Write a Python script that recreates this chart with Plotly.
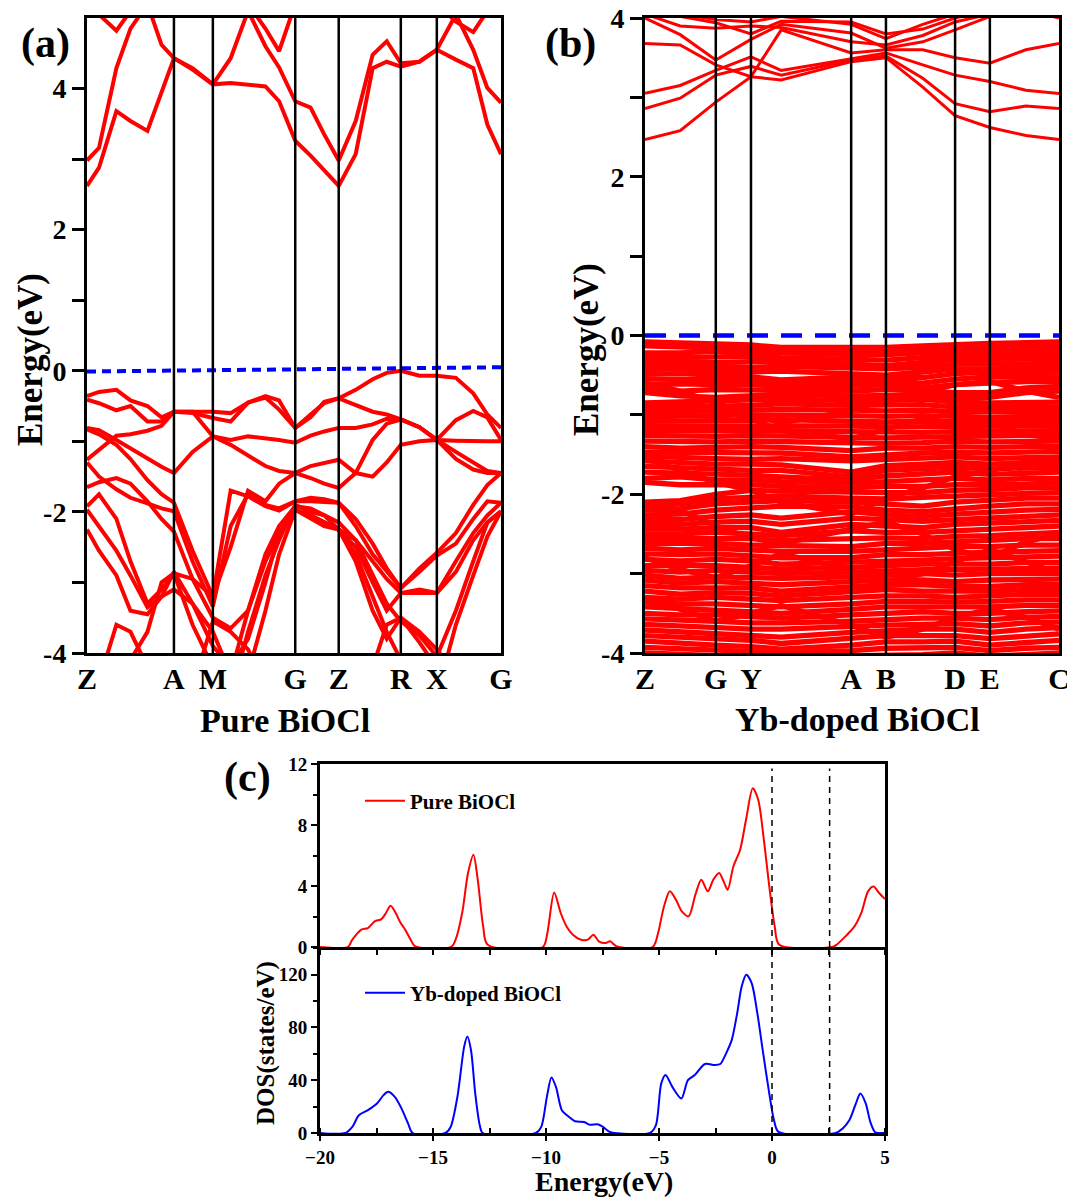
import plotly.graph_objects as go

W, H = 1075, 1202          # target picture size
OFF = 8                     # page body margin that offsets the figure
FW, FH = W - OFF, H - OFF   # figure size so that it fits the window
SERIF = "Liberation Serif"
RED = "#ff0000"
BLUE = "#0000ff"

# ---------------- Panel (a): pure BiOCl band structure ----------------
k_a = [0.0, 0.029, 0.071, 0.105, 0.146, 0.180, 0.210, 0.255, 0.304, 0.347, 0.389, 0.431, 0.464,
       0.503, 0.540, 0.573, 0.608, 0.649, 0.690, 0.724, 0.758, 0.803, 0.845, 0.891, 0.933, 0.967, 1.0]
kpath_a = [0.0, 0.210, 0.304, 0.503, 0.608, 0.758, 0.845, 1.0]
klabels_a = ["Z", "A", "M", "G", "Z", "R", "X", "G"]

cond_a1 = [2.62, 2.88, 3.68, 3.54, 3.40, 3.96, 4.43, 4.29, 4.06, 4.08, 4.06, 4.03, 3.82, 3.26, 3.05, 2.84, 2.62, 3.07, 4.29, 4.38, 4.31, 4.38, 4.55, 4.41, 4.29, 3.49, 3.07]
cond_a2 = [2.98, 3.16, 4.29, 4.85, 5.20, 4.62, 4.43, 4.27, 4.06, 4.43, 5.10, 4.60, 4.30, 3.82, 3.73, 3.35, 2.98, 3.54, 4.48, 4.67, 4.36, 4.38, 4.55, 5.05, 4.55, 4.01, 3.80]
cond_a3 = [5.30, 5.05, 4.82, 5.10, 5.40, 5.50, 5.50, 5.50, 5.50, 5.40, 5.20, 4.85, 4.53, 5.20, 5.50, 5.50, 5.50, 5.40, 5.20, 5.10, 5.30, 5.30, 5.20, 4.95, 4.80, 5.10, 5.30]

val_a1 = [-0.36, -0.30, -0.27, -0.42, -0.50, -0.66, -0.58, -0.58, -0.58, -0.60, -0.45, -0.36, -0.42, -0.81, -0.66, -0.44, -0.39, -0.27, -0.12, -0.03, 0.00, -0.07, -0.07, -0.10, -0.32, -0.62, -0.81]
val_a2 = [-0.41, -0.46, -0.56, -0.50, -0.72, -0.72, -0.58, -0.60, -0.67, -0.72, -0.45, -0.38, -0.55, -0.81, -0.62, -0.46, -0.39, -0.48, -0.58, -0.62, -0.69, -0.80, -0.98, -0.70, -0.57, -0.66, -0.98]
val_a3 = [-0.81, -0.84, -0.98, -1.10, -1.24, -1.36, -1.45, -1.15, -0.93, -0.98, -0.93, -0.95, -0.98, -1.02, -0.92, -0.86, -0.81, -0.81, -0.76, -0.68, -0.69, -0.80, -0.98, -0.99, -1.00, -1.00, -1.00]
val_a4 = [-0.83, -0.90, -1.05, -1.25, -1.55, -1.75, -1.87, -2.55, -3.20, -2.50, -1.70, -1.85, -1.60, -1.45, -1.35, -1.30, -1.26, -1.45, -1.50, -1.30, -1.05, -1.00, -0.98, -1.15, -1.30, -1.42, -1.45]
val_a5 = [-1.26, -1.12, -0.92, -0.90, -0.85, -0.78, -0.58, -0.58, -0.93, -1.05, -1.20, -1.35, -1.42, -1.45, -1.52, -1.60, -1.66, -1.45, -0.98, -0.75, -0.69, -0.80, -0.98, -1.25, -1.40, -1.45, -1.45]
val_a6 = [-1.30, -1.50, -1.68, -1.80, -1.88, -1.95, -1.99, -2.70, -3.34, -2.20, -1.75, -1.90, -1.95, -1.85, -1.85, -1.86, -1.87, -2.10, -2.45, -2.80, -3.08, -2.80, -2.58, -2.30, -1.90, -1.62, -1.45]
val_a7 = [-1.65, -1.58, -1.52, -1.60, -1.85, -2.10, -2.28, -2.95, -3.50, -3.65, -3.40, -2.70, -2.30, -1.97, -2.05, -2.15, -2.25, -2.40, -2.70, -2.95, -3.15, -3.15, -3.15, -2.70, -2.30, -2.05, -1.87]
val_a8 = [-1.92, -1.75, -2.10, -2.70, -3.30, -3.10, -2.87, -2.95, -3.20, -1.70, -1.78, -1.92, -1.98, -1.85, -1.80, -1.82, -1.87, -2.20, -2.60, -2.85, -3.08, -2.85, -2.62, -2.45, -2.10, -1.85, -1.87]
val_a9 = [-1.97, -2.20, -2.55, -2.90, -3.35, -3.20, -2.85, -3.30, -3.90, -4.20, -3.80, -3.00, -2.30, -1.97, -2.10, -2.20, -2.25, -2.50, -3.00, -3.40, -3.15, -3.10, -3.15, -2.85, -2.40, -2.15, -1.99]
val_a10 = [-2.25, -2.55, -2.90, -3.40, -3.45, -3.20, -3.10, -3.30, -3.70, -4.30, -3.40, -2.60, -2.20, -1.92, -1.95, -2.05, -2.15, -2.40, -2.90, -3.30, -3.55, -3.75, -4.05, -3.40, -2.70, -2.15, -1.99]
val_a11 = [-4.80, -4.40, -3.60, -3.70, -4.20, -4.60, -4.80, -4.50, -3.55, -3.70, -3.95, -4.40, -4.80, -5.00, -5.00, -5.00, -5.00, -4.60, -4.20, -3.60, -3.50, -3.85, -4.20, -4.60, -4.80, -5.00, -5.00]
val_a12 = [-5.00, -4.80, -4.40, -4.60, -5.00, -5.00, -5.00, -5.00, -5.00, -4.60, -3.70, -2.90, -2.40, -1.90, -2.00, -2.05, -2.25, -2.60, -3.20, -3.70, -4.10, -4.30, -4.60, -3.60, -2.90, -2.35, -1.99]
val_a13 = [-5.00, -5.00, -4.60, -4.10, -3.70, -3.00, -2.87, -3.60, -4.20, -4.80, -4.30, -3.40, -2.60, -1.97, -2.05, -2.15, -2.25, -2.70, -3.40, -3.80, -3.50, -3.70, -3.95, -4.30, -4.80, -5.00, -5.00]

bands_a = [cond_a1, cond_a2, cond_a3, val_a1, val_a2, val_a3, val_a4, val_a5, val_a6, val_a7,
           val_a8, val_a9, val_a10, val_a11, val_a12, val_a13]
fermi_a = [-0.01, 0.05]

# ---------------- Panel (b): Yb-doped BiOCl band structure ----------------
k_b = [0.0, 0.085, 0.171, 0.256, 0.329, 0.498, 0.582, 0.671, 0.749, 0.833, 0.920, 1.0]
kpath_b = [0.0, 0.171, 0.256, 0.498, 0.582, 0.749, 0.833, 1.0]
klabels_b = ["Z", "G", "Y", "A", "B", "D", "E", "C"]

cond_b = [
    [2.47, 2.58, 2.94, 3.26, 3.22, 3.45, 3.50, 3.13, 2.77, 2.62, 2.52, 2.47],
    [2.86, 2.99, 3.28, 3.39, 3.28, 3.47, 3.52, 3.24, 2.92, 2.82, 2.89, 2.86],
    [3.05, 3.15, 3.34, 3.51, 3.34, 3.49, 3.56, 3.41, 3.28, 3.20, 3.09, 3.05],
    [3.68, 3.66, 3.41, 3.26, 3.85, 3.56, 3.60, 3.60, 3.50, 3.43, 3.60, 3.68],
    [4.00, 3.79, 3.47, 3.73, 3.92, 3.81, 3.62, 3.70, 3.85, 4.02, 4.05, 4.05],
    [4.05, 3.90, 3.87, 3.90, 3.88, 3.70, 3.66, 3.78, 3.95, 4.05, 4.10, 4.10],
    [4.10, 4.02, 3.94, 3.80, 3.96, 3.95, 3.80, 3.86, 4.00, 4.10, 4.10, 4.00],
    [4.10, 4.05, 3.98, 3.95, 4.02, 3.92, 3.74, 3.92, 4.05, 4.12, 4.12, 4.08],
]

val_b = [
    [-0.08, -0.09, -0.10, -0.12, -0.15, -0.16, -0.15, -0.13, -0.11, -0.10, -0.09, -0.08],
    [-0.13, -0.14, -0.15, -0.17, -0.19, -0.20, -0.19, -0.17, -0.15, -0.14, -0.13, -0.12],
    [-0.22, -0.22, -0.20, -0.21, -0.23, -0.24, -0.24, -0.22, -0.19, -0.18, -0.18, -0.17],
    [-0.27, -0.28, -0.27, -0.26, -0.28, -0.30, -0.31, -0.28, -0.25, -0.24, -0.23, -0.23],
    [-0.32, -0.33, -0.34, -0.33, -0.33, -0.36, -0.38, -0.34, -0.30, -0.30, -0.29, -0.29],
    [-0.38, -0.37, -0.39, -0.40, -0.39, -0.40, -0.42, -0.40, -0.36, -0.36, -0.35, -0.35],
    [-0.43, -0.42, -0.45, -0.46, -0.45, -0.48, -0.50, -0.46, -0.42, -0.42, -0.41, -0.41],
    [-0.49, -0.48, -0.50, -0.52, -0.56, -0.52, -0.53, -0.53, -0.48, -0.46, -0.47, -0.46],
    [-0.55, -0.55, -0.56, -0.56, -0.60, -0.58, -0.57, -0.60, -0.55, -0.52, -0.53, -0.52],
    [-0.62, -0.61, -0.62, -0.62, -0.64, -0.64, -0.62, -0.66, -0.62, -0.60, -0.58, -0.58],
    [-0.68, -0.70, -0.68, -0.68, -0.69, -0.70, -0.68, -0.70, -0.72, -0.72, -0.66, -0.64],
    [-0.72, -0.76, -0.78, -0.75, -0.74, -0.76, -0.75, -0.75, -0.78, -0.78, -0.72, -0.70],
    [-0.85, -0.84, -0.83, -0.81, -0.80, -0.82, -0.82, -0.80, -0.84, -0.85, -0.84, -0.84],
    [-0.90, -0.90, -0.89, -0.88, -0.86, -0.88, -0.88, -0.87, -0.90, -0.90, -0.90, -0.90],
    [-0.96, -0.96, -0.95, -0.94, -0.93, -0.94, -0.95, -0.94, -0.96, -0.96, -0.96, -0.96],
    [-1.02, -1.02, -1.01, -1.00, -1.00, -1.01, -1.02, -1.01, -1.02, -1.03, -1.02, -1.02],
    [-1.08, -1.08, -1.07, -1.07, -1.06, -1.08, -1.09, -1.08, -1.09, -1.09, -1.08, -1.08],
    [-1.14, -1.14, -1.13, -1.13, -1.13, -1.14, -1.15, -1.15, -1.15, -1.15, -1.14, -1.14],
    [-1.20, -1.20, -1.20, -1.19, -1.20, -1.21, -1.22, -1.22, -1.21, -1.21, -1.20, -1.20],
    [-1.26, -1.27, -1.27, -1.26, -1.27, -1.28, -1.29, -1.28, -1.27, -1.27, -1.26, -1.26],
    [-1.33, -1.34, -1.34, -1.33, -1.34, -1.35, -1.36, -1.35, -1.33, -1.34, -1.33, -1.33],
    [-1.40, -1.42, -1.41, -1.40, -1.41, -1.45, -1.42, -1.42, -1.40, -1.41, -1.40, -1.40],
    [-1.47, -1.47, -1.48, -1.48, -1.48, -1.53, -1.50, -1.48, -1.47, -1.48, -1.47, -1.46],
    [-1.52, -1.54, -1.55, -1.56, -1.55, -1.58, -1.56, -1.55, -1.53, -1.55, -1.54, -1.53],
    [-1.58, -1.60, -1.62, -1.62, -1.63, -1.72, -1.64, -1.62, -1.60, -1.62, -1.60, -1.60],
    [-1.65, -1.67, -1.68, -1.70, -1.70, -1.78, -1.70, -1.68, -1.66, -1.68, -1.67, -1.66],
    [-1.72, -1.73, -1.75, -1.76, -1.78, -1.82, -1.77, -1.74, -1.72, -1.75, -1.73, -1.72],
    [-1.80, -1.78, -1.82, -1.82, -1.84, -1.86, -1.84, -1.82, -1.80, -1.82, -1.80, -1.80],
    [-1.85, -1.88, -1.88, -1.88, -1.90, -1.92, -1.90, -1.90, -1.88, -1.88, -1.87, -1.86],
    [-2.10, -2.08, -2.00, -1.95, -1.96, -1.98, -1.98, -1.98, -1.95, -1.94, -1.92, -1.92],
    [-2.15, -2.12, -2.06, -2.03, -2.02, -2.05, -2.06, -2.04, -2.02, -2.00, -1.99, -1.98],
    [-2.20, -2.18, -2.12, -2.10, -2.08, -2.10, -2.13, -2.15, -2.10, -2.08, -2.05, -2.05],
    [-2.26, -2.25, -2.20, -2.18, -2.15, -2.16, -2.20, -2.22, -2.18, -2.15, -2.12, -2.12],
    [-2.32, -2.32, -2.28, -2.26, -2.30, -2.22, -2.26, -2.28, -2.25, -2.22, -2.20, -2.19],
    [-2.38, -2.38, -2.35, -2.34, -2.38, -2.30, -2.32, -2.34, -2.32, -2.30, -2.28, -2.26],
    [-2.44, -2.44, -2.42, -2.42, -2.48, -2.38, -2.40, -2.42, -2.38, -2.36, -2.35, -2.33],
    [-2.50, -2.50, -2.48, -2.50, -2.52, -2.46, -2.48, -2.48, -2.46, -2.44, -2.42, -2.40],
    [-2.56, -2.56, -2.55, -2.56, -2.58, -2.55, -2.55, -2.56, -2.53, -2.52, -2.50, -2.48],
    [-2.62, -2.62, -2.62, -2.64, -2.65, -2.66, -2.62, -2.62, -2.60, -2.58, -2.56, -2.56],
    [-2.68, -2.70, -2.68, -2.70, -2.72, -2.72, -2.70, -2.68, -2.66, -2.66, -2.64, -2.64],
    [-2.75, -2.76, -2.75, -2.78, -2.80, -2.80, -2.76, -2.76, -2.74, -2.73, -2.72, -2.71],
    [-2.82, -2.84, -2.82, -2.84, -2.88, -2.86, -2.84, -2.83, -2.81, -2.80, -2.80, -2.78],
    [-2.90, -2.90, -2.90, -2.92, -2.94, -2.92, -2.90, -2.88, -2.88, -2.88, -2.86, -2.86],
    [-2.96, -2.98, -2.96, -2.98, -3.00, -2.98, -2.96, -2.95, -2.95, -2.94, -2.93, -2.93],
    [-3.02, -3.06, -3.04, -3.05, -3.06, -3.04, -3.02, -3.00, -3.02, -3.00, -3.00, -3.00],
    [-3.08, -3.12, -3.10, -3.12, -3.14, -3.10, -3.08, -3.08, -3.10, -3.08, -3.07, -3.07],
    [-3.15, -3.18, -3.18, -3.18, -3.22, -3.16, -3.14, -3.14, -3.16, -3.16, -3.14, -3.14],
    [-3.22, -3.26, -3.24, -3.25, -3.28, -3.22, -3.20, -3.22, -3.22, -3.22, -3.20, -3.20],
    [-3.30, -3.32, -3.30, -3.32, -3.34, -3.30, -3.28, -3.28, -3.30, -3.28, -3.26, -3.26],
    [-3.36, -3.38, -3.38, -3.40, -3.42, -3.38, -3.35, -3.35, -3.36, -3.35, -3.33, -3.33],
    [-3.42, -3.44, -3.45, -3.48, -3.50, -3.45, -3.42, -3.42, -3.42, -3.42, -3.40, -3.40],
    [-3.50, -3.52, -3.52, -3.55, -3.56, -3.52, -3.50, -3.48, -3.50, -3.50, -3.48, -3.47],
    [-3.57, -3.58, -3.60, -3.62, -3.62, -3.60, -3.58, -3.56, -3.56, -3.58, -3.55, -3.54],
    [-3.64, -3.66, -3.68, -3.70, -3.70, -3.66, -3.65, -3.64, -3.63, -3.66, -3.62, -3.61],
    [-3.71, -3.73, -3.75, -3.78, -3.80, -3.74, -3.72, -3.70, -3.70, -3.74, -3.70, -3.68],
    [-3.78, -3.80, -3.82, -3.84, -3.88, -3.82, -3.78, -3.78, -3.78, -3.82, -3.78, -3.76],
    [-3.85, -3.88, -3.90, -3.92, -3.95, -3.90, -3.86, -3.86, -3.85, -3.90, -3.86, -3.84],
    [-3.93, -3.95, -3.97, -3.98, -3.99, -3.97, -3.94, -3.94, -3.93, -3.97, -3.94, -3.93],
    [-4.00, -4.02, -4.04, -4.05, -4.05, -4.04, -4.02, -4.02, -4.00, -4.04, -4.02, -4.00],
    [-0.60, -0.70, -0.85, -1.00, -1.10, -0.95, -0.80, -0.72, -0.62, -0.58, -0.70, -0.78],
    [-1.10, -1.00, -0.92, -1.05, -1.20, -1.30, -1.18, -1.05, -0.98, -1.10, -1.25, -1.30],
    [-1.55, -1.70, -1.85, -1.95, -2.10, -2.25, -2.05, -1.92, -1.78, -1.70, -1.62, -1.55],
    [-2.30, -2.20, -2.40, -2.55, -2.62, -2.45, -2.35, -2.50, -2.70, -2.80, -2.60, -2.50],
    [-2.80, -2.95, -3.05, -2.90, -2.75, -2.95, -3.10, -3.00, -2.85, -2.70, -2.85, -3.00],
    [-3.30, -3.45, -3.60, -3.50, -3.40, -3.65, -3.80, -3.70, -3.55, -3.45, -3.55, -3.70],
]
fermi_b = [0.0, 0.0]

# ---------------- Panel (c): density of states ----------------
dos_e_pure = [-20.0, -18.77, -18.57, -18.17, -17.88, -17.58, -17.28, -17.08, -16.88, -16.65, -16.45, -16.25,
              -15.99, -15.79, -14.2, -14.0, -13.71, -13.45, -13.21, -13.02, -12.78, -12.58, -10.14, -9.94,
              -9.64, -9.35, -9.09, -8.81, -8.45, -8.15, -7.9, -7.66, -7.36, -7.16, -6.87, -5.28, -5.04,
              -4.78, -4.52, -4.25, -3.99, -3.69, -3.39, -3.13, -2.84, -2.6, -2.34, -2.14, -1.96, -1.71,
              -1.41, -1.15, -0.85, -0.61, -0.36, -0.12, 0.12, 0.32, 2.66, 2.86, 3.25, 3.65, 3.95, 4.25,
              4.49, 4.74, 5.0]
dos_pure = [0.0, 0.0, 0.48, 1.14, 1.24, 1.68, 1.83, 2.23, 2.71, 2.23, 1.62, 1.18,
            0.48, 0.04, 0.0, 0.48, 2.23, 4.85, 6.05, 4.41, 1.35, 0.15, 0.0, 0.92,
            3.58, 2.23, 1.35, 0.81, 0.48, 0.48, 0.81, 0.37, 0.26, 0.37, 0.04, 0.0, 0.92,
            2.66, 3.65, 3.10, 2.34, 2.01, 3.43, 4.41, 3.65, 4.41, 4.85, 4.30, 3.76, 5.28,
            6.38, 8.34, 10.41, 9.65, 7.03, 3.97, 1.35, 0.15, 0.0, 0.15, 0.70, 1.35, 2.23, 3.65,
            3.97, 3.54, 3.14]

dos_e_yb = [-20.0, -18.87, -18.57, -18.28, -17.88, -17.48, -17.19, -16.99, -16.69, -16.39, -16.1, -15.9,
            -14.45, -14.22, -13.92, -13.62, -13.48, -13.32, -13.13, -12.93, -12.8, -10.45, -10.21, -9.96,
            -9.76, -9.56, -9.3, -9.07, -8.71, -8.31, -8.07, -7.72, -7.48, -7.18, -6.98, -5.4, -5.14,
            -4.9, -4.71, -4.41, -4.01, -3.72, -3.42, -2.97, -2.53, -2.29, -2.03, -1.78, -1.54, -1.34,
            -1.14, -0.9, -0.65, -0.39, -0.12, 0.09, 0.29, 2.82, 3.12, 3.42, 3.71, 3.91, 4.15, 4.35,
            4.55, 4.71, 5.0]
dos_yb = [0.0, 0.0, 4.6, 13.4, 17.3, 22.3, 28.7, 31.2, 27.4, 18.5, 7.1, 0.0,
          0.0, 4.6, 27.4, 65.5, 73.1, 62.9, 29.9, 5.8, 0.0, 0.0, 4.6, 27.4,
          42.1, 35.0, 17.3, 13.4, 8.9, 8.4, 6.3, 6.6, 4.6, 0.8, 0.0, 0.0, 5.8,
          37.6, 43.9, 35.0, 26.1, 40.1, 43.9, 52.3, 51.5, 52.3, 60.4, 70.6, 90.9, 111.2,
          120.0, 113.7, 90.9, 60.4, 29.9, 9.6, 0.8, 0.0, 3.3, 9.6, 22.3, 29.9, 22.3, 8.4,
          0.8, 0.0, 0.0]
gap_marks = [0.0, 2.55]


# ---------------- helpers: target-picture pixels -> paper fractions ----------------
def px(x):
    return (x - OFF) / FW


def py(y):
    return 1 - (y - OFF) / FH


fig = go.Figure()

# panel (a) traces
for band in bands_a:
    fig.add_trace(go.Scatter(x=k_a, y=band, mode="lines", line=dict(color=RED, width=4),
                             xaxis="x", yaxis="y", showlegend=False, hoverinfo="skip"))
fig.add_trace(go.Scatter(x=[kpath_a[0], kpath_a[-1]], y=fermi_a, mode="lines",
                         line=dict(color=BLUE, width=4, dash="9px,6px"),
                         xaxis="x", yaxis="y", showlegend=False, hoverinfo="skip"))

# panel (b) traces
for band in val_b:
    fig.add_trace(go.Scatter(x=k_b, y=band, mode="lines", line=dict(color=RED, width=5.3),
                             xaxis="x2", yaxis="y2", showlegend=False, hoverinfo="skip"))
for band in cond_b:
    fig.add_trace(go.Scatter(x=k_b, y=band, mode="lines", line=dict(color=RED, width=3),
                             xaxis="x2", yaxis="y2", showlegend=False, hoverinfo="skip"))
fig.add_trace(go.Scatter(x=[kpath_b[0], kpath_b[-1]], y=fermi_b, mode="lines",
                         line=dict(color=BLUE, width=4.5, dash="21px,13px"),
                         xaxis="x2", yaxis="y2", showlegend=False, hoverinfo="skip"))

# panel (c) traces
fig.add_trace(go.Scatter(x=dos_e_pure, y=dos_pure, mode="lines", name="Pure BiOCl",
                         line=dict(color=RED, width=2, shape="spline", smoothing=0.8),
                         xaxis="x3", yaxis="y3", legend="legend", hoverinfo="skip"))
fig.add_trace(go.Scatter(x=dos_e_yb, y=dos_yb, mode="lines", name="Yb-doped BiOCl",
                         line=dict(color=BLUE, width=2, shape="spline", smoothing=0.8),
                         xaxis="x4", yaxis="y4", legend="legend2", hoverinfo="skip"))
for g in gap_marks:
    fig.add_trace(go.Scatter(x=[g, g], y=[0, 11.7], mode="lines",
                             line=dict(color="black", width=1.5, dash="6px,5px"),
                             xaxis="x3", yaxis="y3", showlegend=False, hoverinfo="skip"))
    fig.add_trace(go.Scatter(x=[g, g], y=[0, 141], mode="lines",
                             line=dict(color="black", width=1.5, dash="6px,5px"),
                             xaxis="x4", yaxis="y4", showlegend=False, hoverinfo="skip"))

# vertical high-symmetry lines
shapes = []
for k in kpath_a[1:-1]:
    shapes.append(dict(type="line", xref="x", yref="y domain", x0=k, x1=k, y0=0, y1=1,
                       line=dict(color="black", width=2.5), layer="above"))
for k in kpath_b[1:-1]:
    shapes.append(dict(type="line", xref="x2", yref="y2 domain", x0=k, x1=k, y0=0, y1=1,
                       line=dict(color="black", width=2.5), layer="above"))

tick_font = dict(family=SERIF, size=28, color="black", weight="bold")
k_font = dict(family=SERIF, size=30, color="black", weight="bold")
dos_font = dict(family=SERIF, size=19, color="black", weight="bold")

axis_common = dict(showline=True, linecolor="black", linewidth=3,
                   showgrid=False, zeroline=False, automargin=False,
                   ticklabeloverflow="allow")

band_y_vals = [-4, -3, -2, -1, 0, 1, 2, 3, 4]
band_y_text = ["-4", "", "-2", "", "0", "", "2", "", "4"]

layout = dict(
    width=FW, height=FH, autosize=False,
    margin=dict(l=0, r=0, t=0, b=0, autoexpand=False),
    paper_bgcolor="white", plot_bgcolor="white",
    shapes=shapes,
    xaxis=dict(domain=[px(87), px(501)], range=[0, 1], anchor="y", tickmode="array",
               tickvals=kpath_a, ticktext=klabels_a, ticks="", tickfont=k_font,
               ticklabelstandoff=-3, mirror=True, **axis_common),
    yaxis=dict(domain=[py(653), py(18)], range=[-4, 5], anchor="x", tickmode="array",
               tickvals=band_y_vals, ticktext=band_y_text, ticks="outside", ticklen=12,
               tickwidth=3, tickcolor="black", tickfont=tick_font,
               mirror=True, **axis_common),
    xaxis2=dict(domain=[px(645), px(1059)], range=[0, 1], anchor="y2", tickmode="array",
                tickvals=kpath_b, ticktext=klabels_b, ticks="", tickfont=k_font,
                ticklabelstandoff=-3, mirror=True, **axis_common),
    yaxis2=dict(domain=[py(653), py(18)], range=[-4, 4], anchor="x2", tickmode="array",
                tickvals=band_y_vals, ticktext=band_y_text, ticks="outside", ticklen=12,
                tickwidth=3, tickcolor="black", tickfont=tick_font,
                mirror=True, **axis_common),
    xaxis3=dict(domain=[px(320), px(885)], range=[-20, 5], anchor="y3", showticklabels=False,
                tick0=-20, dtick=2.5, ticks="outside", ticklen=5, tickwidth=2, tickcolor="black",
                mirror=True, **axis_common),
    yaxis3=dict(domain=[py(947), py(764)], range=[0, 12], anchor="x3", tick0=0, dtick=4,
                ticks="outside", ticklen=6, tickwidth=2, tickcolor="black", tickfont=dos_font,
                minor=dict(dtick=2, ticks="outside", ticklen=4, tickwidth=2, tickcolor="black"),
                mirror=True, **axis_common),
    xaxis4=dict(domain=[px(320), px(885)], range=[-20, 5], anchor="y4", tick0=-20, dtick=5,
                ticks="outside", ticklen=5, tickwidth=2, tickcolor="black", tickfont=dos_font,
                minor=dict(dtick=2.5, ticks="inside", ticklen=5, tickwidth=2, tickcolor="black"),
                mirror=False, **axis_common),
    yaxis4=dict(domain=[py(1133), py(947)], range=[0, 141], anchor="x4", tick0=0, dtick=40,
                ticks="outside", ticklen=6, tickwidth=2, tickcolor="black", tickfont=dos_font,
                minor=dict(dtick=20, ticks="outside", ticklen=4, tickwidth=2, tickcolor="black"),
                mirror=True, **axis_common),
    legend=dict(x=px(360), y=py(801), xanchor="left", yanchor="middle",
                bgcolor="rgba(0,0,0,0)", borderwidth=0, itemwidth=40,
                font=dict(family=SERIF, size=21, color="black", weight="bold")),
    legend2=dict(x=px(360), y=py(993), xanchor="left", yanchor="middle",
                 bgcolor="rgba(0,0,0,0)", borderwidth=0, itemwidth=40,
                 font=dict(family=SERIF, size=21, color="black", weight="bold")),
)

ann_font_big = dict(family=SERIF, size=42, color="black", weight="bold")
title_font = dict(family=SERIF, size=34, color="black", weight="bold")
annotations = [
    dict(text="(a)", x=px(45), y=py(43), font=ann_font_big),
    dict(text="(b)", x=px(570), y=py(43), font=ann_font_big),
    dict(text="(c)", x=px(247), y=py(777), font=ann_font_big),
    dict(text="Energy(eV)", x=px(30), y=py(360), textangle=-90,
         font=dict(family=SERIF, size=35, color="black", weight="bold")),
    dict(text="Energy(eV)", x=px(586), y=py(350), textangle=-90,
         font=dict(family=SERIF, size=35, color="black", weight="bold")),
    dict(text="Pure BiOCl", x=px(285), y=py(720), font=title_font),
    dict(text="Yb-doped BiOCl", x=px(857), y=py(719), font=title_font),
    dict(text="DOS(states/eV)", x=px(266), y=py(1043), textangle=-90,
         font=dict(family=SERIF, size=25, color="black", weight="bold")),
    dict(text="Energy(eV)", x=px(604), y=py(1181),
         font=dict(family=SERIF, size=28, color="black", weight="bold")),
]
for a in annotations:
    a.update(xref="paper", yref="paper", showarrow=False, xanchor="center", yanchor="middle")
layout["annotations"] = annotations

fig.update_layout(**layout)
fig.write_html("out.html")
